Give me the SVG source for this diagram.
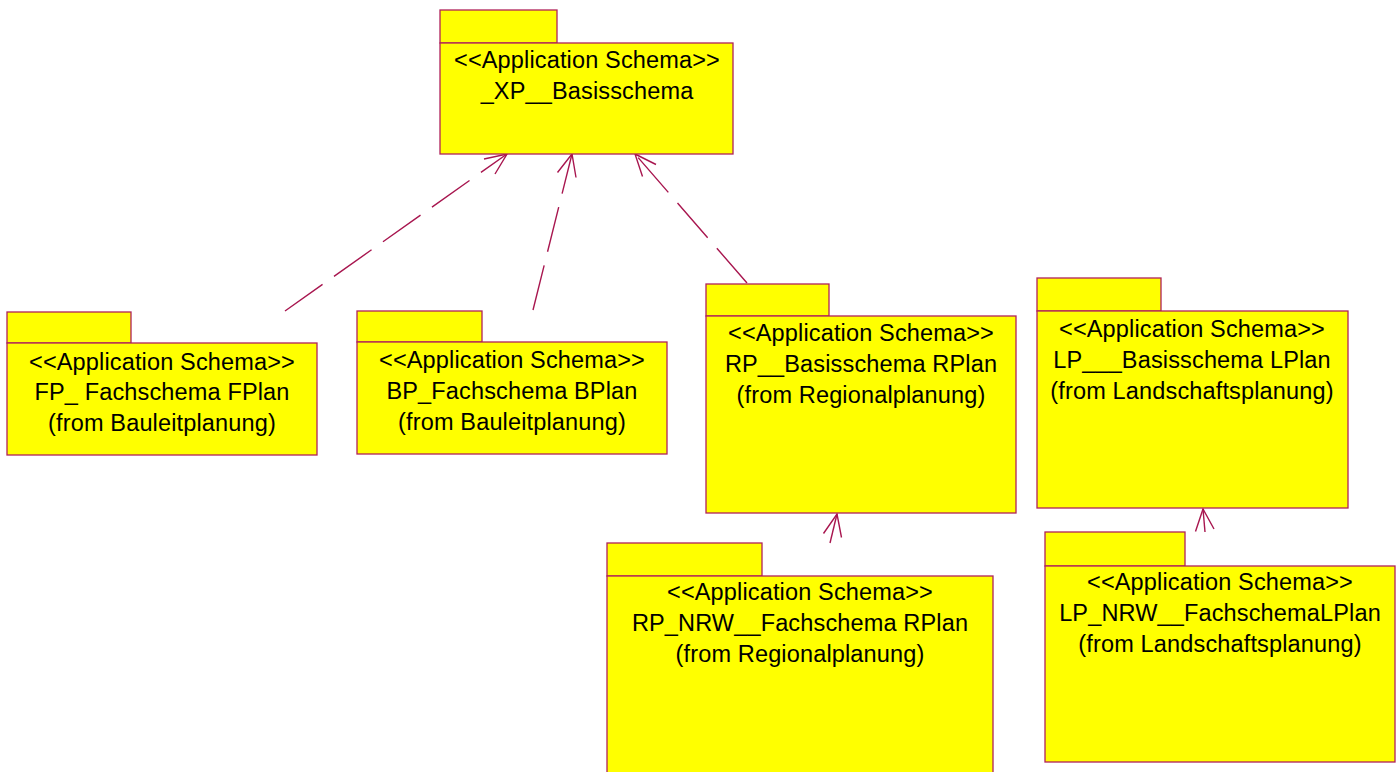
<svg xmlns="http://www.w3.org/2000/svg" width="1400" height="772" viewBox="0 0 1400 772">
<style>
.box{fill:#ffff00;stroke:#b0235a;stroke-width:1.3}
.t{font-family:"Liberation Sans",Arial,sans-serif;font-size:23.5px;letter-spacing:0.15px;fill:#000;text-anchor:middle}
.c{fill:none;stroke:#a8164f;stroke-width:1.4}
.d{stroke-dasharray:46 14}
</style>
<rect width="1400" height="772" fill="#ffffff"/>
<g id="connectors">
<line class="c d" x1="285" y1="311" x2="507" y2="154"/>
<polyline class="c" points="484,159 507,154 495,174"/>
<line class="c d" x1="533" y1="310" x2="572" y2="154"/>
<polyline class="c" points="557.5,172.5 572,154 576,177.5"/>
<line class="c d" x1="747" y1="283" x2="635" y2="154"/>
<polyline class="c" points="656,164.5 635,154 642.5,176.5"/>
<line class="c" x1="830" y1="543" x2="837" y2="514"/>
<polyline class="c" points="823.5,533.5 837,514 841.5,537.5"/>
<line class="c" x1="1205" y1="532" x2="1203" y2="509"/>
<polyline class="c" points="1195.5,531.5 1203,509 1214,529"/>
</g>
<g id="xp">
<rect class="box" x="440" y="10" width="117" height="33"/>
<rect class="box" x="440" y="43" width="293" height="111"/>
<text class="t" x="587" y="68">&lt;&lt;Application Schema&gt;&gt;</text>
<text class="t" x="587" y="99">_XP__Basisschema</text>
</g>
<g id="fp">
<rect class="box" x="7" y="312" width="124" height="31"/>
<rect class="box" x="7" y="343" width="310" height="112"/>
<text class="t" x="162" y="370">&lt;&lt;Application Schema&gt;&gt;</text>
<text class="t" x="162" y="400">FP_ Fachschema FPlan</text>
<text class="t" x="162" y="431">(from Bauleitplanung)</text>
</g>
<g id="bp">
<rect class="box" x="357" y="311" width="125" height="31"/>
<rect class="box" x="357" y="342" width="310" height="112"/>
<text class="t" x="512" y="368">&lt;&lt;Application Schema&gt;&gt;</text>
<text class="t" x="512" y="399">BP_Fachschema BPlan</text>
<text class="t" x="512" y="430">(from Bauleitplanung)</text>
</g>
<g id="rp">
<rect class="box" x="706" y="284" width="123" height="32"/>
<rect class="box" x="706" y="316" width="310" height="197"/>
<text class="t" x="861" y="341">&lt;&lt;Application Schema&gt;&gt;</text>
<text class="t" x="861" y="372">RP__Basisschema RPlan</text>
<text class="t" x="861" y="403">(from Regionalplanung)</text>
</g>
<g id="lp">
<rect class="box" x="1037" y="278" width="124" height="33"/>
<rect class="box" x="1037" y="311" width="311" height="197"/>
<text class="t" x="1192" y="337">&lt;&lt;Application Schema&gt;&gt;</text>
<text class="t" x="1192" y="368">LP___Basisschema LPlan</text>
<text class="t" x="1192" y="399">(from Landschaftsplanung)</text>
</g>
<g id="rpnrw">
<rect class="box" x="607" y="543" width="155" height="33"/>
<rect class="box" x="607" y="576" width="386" height="210"/>
<text class="t" x="800" y="600">&lt;&lt;Application Schema&gt;&gt;</text>
<text class="t" x="800" y="631">RP_NRW__Fachschema RPlan</text>
<text class="t" x="800" y="662">(from Regionalplanung)</text>
</g>
<g id="lpnrw">
<rect class="box" x="1045" y="532" width="140" height="34"/>
<rect class="box" x="1045" y="566" width="350" height="196"/>
<text class="t" x="1220" y="590">&lt;&lt;Application Schema&gt;&gt;</text>
<text class="t" x="1220" y="621">LP_NRW__FachschemaLPlan</text>
<text class="t" x="1220" y="652">(from Landschaftsplanung)</text>
</g>
</svg>
